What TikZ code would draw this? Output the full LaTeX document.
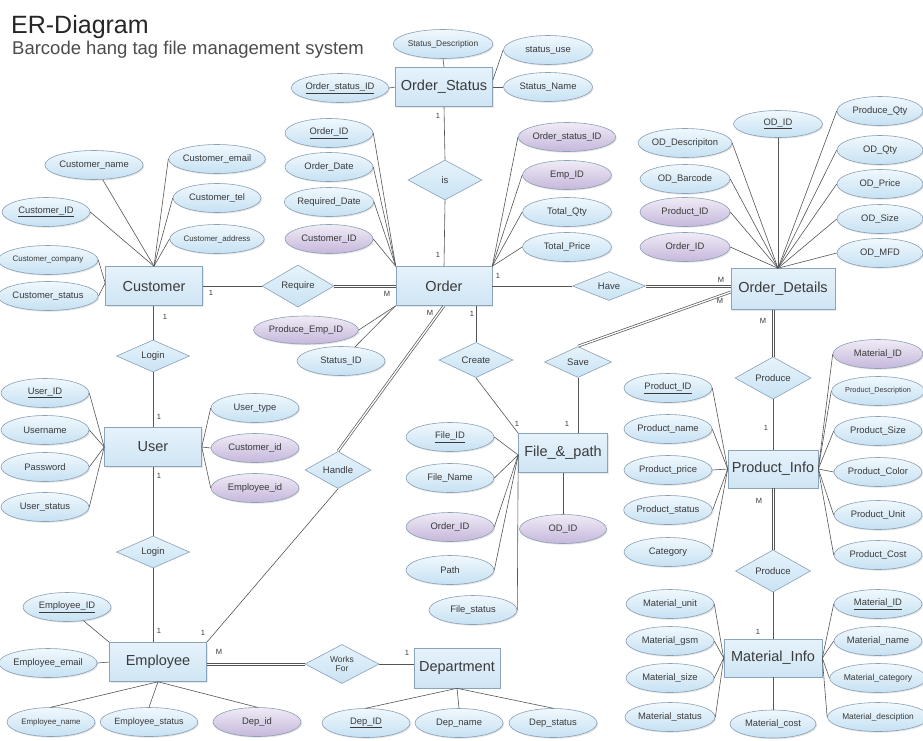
\documentclass[tikz,border=0pt]{standalone}
\usepackage{fontspec}
\setmainfont{Liberation Sans}
\usetikzlibrary{shapes.geometric,shadows}

\definecolor{txt}{HTML}{3A3A3A}
\definecolor{entline}{HTML}{8AA4BB}
\definecolor{enttop}{HTML}{E6F2FB}
\definecolor{entbot}{HTML}{CFE5F4}
\definecolor{attline}{HTML}{8AA0B5}
\definecolor{atttop}{HTML}{F0F8FD}
\definecolor{attbot}{HTML}{C6E1F3}
\definecolor{fktop}{HTML}{F0EBF6}
\definecolor{fkbot}{HTML}{C5B7DB}
\definecolor{reltop}{HTML}{E6F3FB}
\definecolor{relbot}{HTML}{C9E3F4}
\definecolor{linec}{HTML}{555555}

\newcommand\entfont{\fontsize{14.5}{16}\selectfont}
\newcommand\attfont{\fontsize{9.4}{10}\selectfont}
\newcommand\attsmall{\fontsize{7.9}{9}\selectfont}
\newcommand\relfont{\fontsize{9.5}{10}\selectfont}
\newcommand\cardfont{\fontsize{7.5}{8}\selectfont}

\tikzset{
  ent/.style={rectangle, draw=entline, line width=0.6pt, top color=enttop, bottom color=entbot,
    minimum width=97pt, minimum height=39pt, inner sep=0pt, font=\entfont, text=txt,
    drop shadow={opacity=0.18, shadow xshift=1pt, shadow yshift=-1pt}},
  att/.style={ellipse, draw=attline, line width=0.6pt, top color=atttop, bottom color=attbot,
    minimum width=88pt, minimum height=29pt, inner sep=0pt, font=\attfont, text=txt,
    drop shadow={opacity=0.22, shadow xshift=1pt, shadow yshift=-1.2pt}},
  fk/.style={att, top color=fktop, bottom color=fkbot},
  rel/.style={diamond, draw=attline, line width=0.6pt, top color=reltop, bottom color=relbot,
    minimum width=74pt, minimum height=30pt, inner sep=0pt, font=\relfont, text=txt},
  link/.style={draw=linec, line width=0.6pt},
  % slanted double connector
  dbl/.style={draw=linec, line width=0.7pt, double=white, double distance=1.3pt},
  % one rail of a straight (horizontal or vertical) double connector
  rail/.style={draw=linec, line width=0.55pt},
  card/.style={font=\cardfont, text=txt, inner sep=0pt},
  heading/.style={anchor=base west, inner sep=0pt, text=black!85}
}

\begin{document}
\begin{tikzpicture}[x=1pt, y=-1pt]
\useasboundingbox[fill=white] (0,0) rectangle (923,740);

% headings
\node[heading, font=\fontsize{25}{28}\selectfont] (title) at (11,33) {ER-Diagram};
\node[heading, font=\fontsize{18.5}{21}\selectfont, text=black!70] (subtitle) at (12,54) {Barcode hang tag file management system};

% ---------- entities ----------
\node[ent] (os) at (444,87) {Order\_Status};
\node[ent, minimum width=96pt] (ord) at (444,286) {Order};
\node[ent] (cust) at (154,286) {Customer};
\node[ent, minimum width=104pt, minimum height=41pt] (od) at (783,289) {Order\_Details};
\node[ent] (user) at (153,447) {User};
\node[ent, minimum width=89pt] (fp) at (563,453) {File\_\&\_path};
\node[ent, minimum width=90pt, minimum height=38pt] (pi) at (773,469) {Product\_Info};
\node[ent, minimum width=98pt, minimum height=38pt] (mi) at (773,658) {Material\_Info};
\node[ent] (emp) at (158,662) {Employee};
\node[ent, minimum width=86pt, minimum height=40pt] (dept) at (457,668) {Department};

% ---------- relationships ----------
\node[rel, minimum height=40pt] (is) at (445,180) {is};
\node[rel, minimum width=72pt, minimum height=31pt] (req) at (298,286) {Require};
\node[rel, minimum width=73pt, minimum height=29pt] (have) at (609,286) {Have};
\node[rel, minimum width=73pt, minimum height=28pt] (login1) at (153,356) {Login};
\node[rel, minimum width=73pt, minimum height=30pt] (login2) at (153,552) {Login};
\node[rel, minimum width=66pt, minimum height=30pt] (handle) at (338,470) {Handle};
\node[rel, minimum width=74pt, minimum height=31pt] (create) at (476,360) {Create};
\node[rel, minimum width=67pt, minimum height=31pt] (save) at (578,362) {Save};
\node[rel, minimum width=76pt, minimum height=30pt] (pr1) at (773,378) {Produce};
\node[rel, minimum width=75pt, minimum height=29pt] (pr2) at (773,571) {Produce};
\node[rel, minimum width=74pt, minimum height=30pt, align=center, font=\fontsize{8.5}{9}\selectfont] (works) at (342,664) {Works\\For};

% ---------- attributes: Order_Status ----------
\node[att, minimum width=87pt, font=\fontsize{8.4}{9}\selectfont] (osdesc) at (443,44) {Status\_Description};
\node[att, minimum width=89pt] (osuse) at (548,50) {status\_use};
\node[att, minimum width=89pt] (osname) at (548,87) {Status\_Name};
\node[att] (osid) at (340,88) {\underline{Order\_status\_ID}};

% ---------- attributes: Order ----------
\node[att] (oid) at (329,133) {\underline{Order\_ID}};
\node[att] (odate) at (329,167) {Order\_Date};
\node[att] (oreq) at (329,202) {Required\_Date};
\node[fk] (ocust) at (329,239) {Customer\_ID};
\node[fk, minimum width=89pt] (ostat) at (567,137) {Order\_status\_ID};
\node[fk, minimum width=89pt] (oemp) at (567,175) {Emp\_ID};
\node[att, minimum width=89pt] (oqty) at (567,212) {Total\_Qty};
\node[att, minimum width=89pt] (oprice) at (567,247) {Total\_Price};
\node[fk, minimum width=91pt, minimum height=28pt] (pemp) at (306,330) {Produce\_Emp\_ID};
\node[att] (stid) at (341,361) {Status\_ID};

% ---------- attributes: Customer ----------
\node[att] (cname) at (94,165) {Customer\_name};
\node[att] (cemail) at (217,159) {Customer\_email};
\node[att] (ctel) at (217,198) {Customer\_tel};
\node[att, font=\attsmall] (caddr) at (217,239) {Customer\_address};
\node[att] (cid) at (46,212) {\underline{Customer\_ID}};
\node[att, minimum width=90pt, font=\attsmall] (ccomp) at (48,260) {Customer\_company};
\node[att, minimum width=90pt] (cstat) at (48,296) {Customer\_status};

% ---------- attributes: Order_Details ----------
\node[att, minimum width=89pt, minimum height=27pt] (odid) at (778,124) {\underline{OD\_ID}};
\node[att, minimum width=86pt] (pqty) at (880,111) {Produce\_Qty};
\node[att, minimum width=90pt] (oddesc) at (685,143) {OD\_Descripiton};
\node[att, minimum width=90pt] (odbar) at (685,179) {OD\_Barcode};
\node[fk, minimum width=90pt] (odpid) at (685,212) {Product\_ID};
\node[fk, minimum width=90pt] (odoid) at (685,247) {Order\_ID};
\node[att, minimum width=86pt] (odqty) at (880,150) {OD\_Qty};
\node[att, minimum width=86pt] (odprice) at (880,184) {OD\_Price};
\node[att, minimum width=86pt] (odsize) at (880,219) {OD\_Size};
\node[att, minimum width=86pt] (odmfd) at (880,253) {OD\_MFD};

% ---------- attributes: User ----------
\node[att] (uid) at (45,393) {\underline{User\_ID}};
\node[att] (uname) at (45,430) {Username};
\node[att] (upass) at (45,467) {Password};
\node[att] (ustat) at (45,507) {User\_status};
\node[att] (utype) at (255,408) {User\_type};
\node[fk] (ucid) at (255,448) {Customer\_id};
\node[fk] (ueid) at (255,488) {Employee\_id};

% ---------- attributes: File_&_path ----------
\node[att] (fid) at (450,437) {\underline{File\_ID}};
\node[att] (fname) at (450,478) {File\_Name};
\node[fk] (foid) at (450,527) {Order\_ID};
\node[att] (fpath) at (450,570) {Path};
\node[att] (fstat) at (473,610) {File\_status};
\node[fk, minimum width=87pt] (fodid) at (563,529) {OD\_ID};

% ---------- attributes: Product_Info ----------
\node[att] (ppid) at (668,388) {\underline{Product\_ID}};
\node[att] (pname) at (668,429) {Product\_name};
\node[att] (pprice) at (668,470) {Product\_price};
\node[att] (pstat) at (668,510) {Product\_status};
\node[att] (pcat) at (668,552) {Category};
\node[fk, minimum width=90pt] (pmid) at (878,354) {Material\_ID};
\node[att, font=\fontsize{7.3}{8}\selectfont] (pdesc) at (878,391) {Product\_Description};
\node[att] (psize) at (878,431) {Product\_Size};
\node[att] (pcolor) at (878,472) {Product\_Color};
\node[att] (punit) at (878,515) {Product\_Unit};
\node[att] (pcost) at (878,555) {Product\_Cost};

% ---------- attributes: Material_Info ----------
\node[att] (munit) at (670,604) {Material\_unit};
\node[att] (mgsm) at (670,641) {Material\_gsm};
\node[att] (msize) at (670,678) {Material\_size};
\node[att] (mstat) at (670,717) {Material\_status};
\node[att] (mid) at (878,604) {\underline{Material\_ID}};
\node[att] (mname) at (878,641) {Material\_name};
\node[att, font=\fontsize{8.6}{9}\selectfont] (mcat) at (878,678) {Material\_category};
\node[att, font=\fontsize{8.3}{9}\selectfont] (mdesc) at (878,717) {Material\_desciption};
\node[att, minimum width=86pt, minimum height=28pt] (mcost) at (773,724) {Material\_cost};

% ---------- attributes: Employee ----------
\node[att] (eid) at (67,607) {\underline{Employee\_ID}};
\node[att, minimum width=90pt] (eemail) at (48,663) {Employee\_email};
\node[att, font=\attsmall] (ename) at (51,722) {Employee\_name};
\node[att, minimum width=80pt, font=\fontsize{9}{10}\selectfont] (estat) at (149,722) {Employee\_status};
\node[fk] (depid) at (257,722) {Dep\_id};

% ---------- attributes: Department ----------
\node[att] (dpid) at (366,723) {\underline{Dep\_ID}};
\node[att] (dpname) at (459,723) {Dep\_name};
\node[att] (dpstat) at (553,723) {Dep\_status};

% ---------- attribute links ----------
\draw[link] (osdesc.south) -- (os.north);
\draw[link] (osuse.west) -- ([yshift=7pt]os.east);
\draw[link] (osname.west) -- (os.east);
\draw[link] (osid.east) -- (os.west);

\foreach \n in {oid,odate,oreq,ocust} \draw[link] (\n.east) -- (ord.north west);
\foreach \n in {ostat,oemp,oqty,oprice} \draw[link] (\n.west) -- (ord.north east);
\draw[link] (pemp.east) -- (ord.south west);
\draw[link] (stid) -- (ord.south west);

\draw[link] (cname) -- (cust.north);
\foreach \n in {cemail,ctel,caddr} \draw[link] (\n.west) -- (cust.north);
\draw[link] (cid.east) -- (cust.north);
\draw[link] (ccomp.east) -- ([yshift=3pt]cust.west);
\draw[link] (cstat.east) -- ([yshift=3pt]cust.west);

\draw[link] (odid.south) -- ([xshift=-5pt]od.north);
\foreach \n in {oddesc,odbar,odpid,odoid} \draw[link] (\n.east) -- ([xshift=-5pt]od.north);
\foreach \n in {pqty,odqty,odprice,odsize,odmfd} \draw[link] (\n.west) -- ([xshift=-5pt]od.north);

\foreach \n in {uid,uname,upass,ustat} \draw[link] (\n.east) -- (user.west);
\foreach \n in {utype,ucid,ueid} \draw[link] (\n.west) -- (user.east);

\foreach \n in {fid,fname,foid,fpath,fstat} \draw[link] (\n.east) -- ([yshift=-2pt]fp.west);
\draw[link] (fp.south) -- (fodid.north);

\foreach \n in {ppid,pname,pprice,pstat,pcat} \draw[link] (\n.east) -- (pi.west);
\foreach \n in {pmid,pdesc,psize,pcolor,punit,pcost} \draw[link] (\n.west) -- (pi.east);

\foreach \n in {munit,mgsm,msize,mstat} \draw[link] (\n.east) -- (mi.west);
\foreach \n in {mid,mname,mcat,mdesc} \draw[link] (\n.west) -- (mi.east);
\draw[link] (mi.south) -- (mcost.north);

\draw[link] (eid) -- (emp.north west);
\draw[link] (eemail.east) -- (emp.west);
\foreach \n in {ename,estat,depid} \draw[link] (\n.north) -- (emp.south);

\foreach \n in {dpid,dpname,dpstat} \draw[link] (dept.south) -- (\n.north);

% ---------- relationship links ----------
\draw[link] (os.south) -- (is.north);
\draw[link] (is.south) -- (ord.north);
\draw[link] (cust.east) -- (req.west);
\draw[link] (ord.east) -- (have.west);
\draw[link] (save.south) -- (save.south |- fp.north);
\draw[link] (create.north |- ord.south) -- (create.north);
\draw[link] (create.south) -- (fp.north west);
\draw[link] (handle.south) -- (emp.north east);
\draw[link] (pr1.south) -- (pi.north);
\draw[link] (pr2.south) -- (mi.north);
\draw[link] (login1.north |- cust.south) -- (login1.north);
\draw[link] (login1.south) -- (login1.south |- user.north);
\draw[link] (login2.north |- user.south) -- (login2.north);
\draw[link] (login2.south) -- (login2.south |- emp.north);
\draw[link] (works.east) -- (works.east -| dept.west);

% slanted double connectors
\draw[dbl] ([yshift=-3pt]od.west) -- (save.north);
\draw[dbl] (ord.south) -- (handle.north);

% straight double connectors, drawn as two rails
\foreach \o in {-1.1,1.1} {
  \draw[rail] ([yshift=\o pt]req.east) -- ([yshift=\o pt]req.east -| ord.west);
  \draw[rail] ([yshift=\o pt]have.east) -- ([yshift=\o pt]have.east -| od.west);
  \draw[rail] ([xshift=\o pt]pr1.north |- od.south) -- ([xshift=\o pt]pr1.north);
  \draw[rail] ([xshift=\o pt]pi.south) -- ([xshift=\o pt]pr2.north);
  \draw[rail] ([yshift=\o pt]works.west -| emp.east) -- ([yshift=\o pt]works.west);
}

% ---------- cardinalities ----------
\node[card] (c1) at (438,116) {1};
\node[card] (c2) at (438,255) {1};
\node[card] (c3) at (211,293) {1};
\node[card] (c4) at (387,294) {M};
\node[card] (c5) at (498,276) {1};
\node[card] (c6) at (721,280) {M};
\node[card] (c7) at (720,301) {M};
\node[card] (c8) at (430,313) {M};
\node[card] (c9) at (472,314) {1};
\node[card] (c10) at (517,424) {1};
\node[card] (c11) at (567,424) {1};
\node[card] (c12) at (763,321) {M};
\node[card] (c13) at (766,428) {1};
\node[card] (c14) at (759,501) {M};
\node[card] (c15) at (758,632) {1};
\node[card] (c16) at (165,317) {1};
\node[card] (c17) at (159,417) {1};
\node[card] (c18) at (159,476) {1};
\node[card] (c19) at (159,631) {1};
\node[card] (c20) at (203,633) {1};
\node[card] (c21) at (219,652) {M};
\node[card] (c22) at (407,653) {1};
\end{tikzpicture}
\end{document}
